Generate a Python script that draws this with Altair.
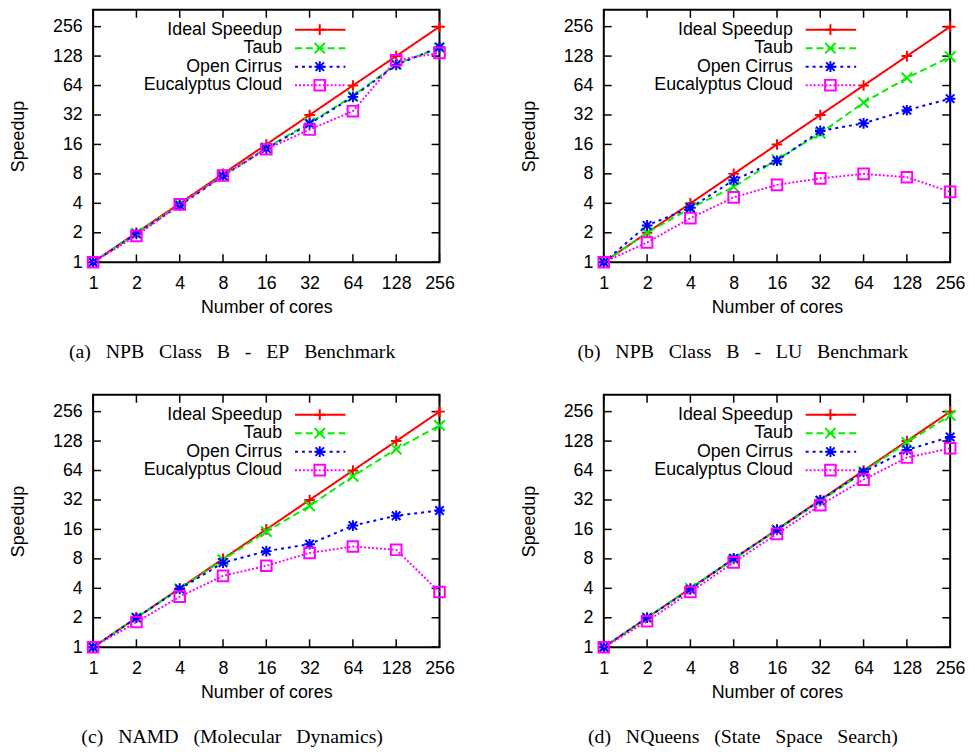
import altair as alt
import pandas as pd

cores = [1, 2, 4, 8, 16, 32, 64, 128, 256]
speedup_ticks = [1, 2, 4, 8, 16, 32, 64, 128, 256]
series_names = ["Ideal Speedup", "Taub", "Open Cirrus", "Eucalyptus Cloud"]
ideal = [1, 2, 4, 8, 16, 32, 64, 128, 256]

ep_taub = [1, 1.98, 3.9, 7.7, 14.8, 26.5, 50, 106, 155]
ep_cirrus = [1, 1.95, 3.8, 7.6, 14.5, 26, 49, 104, 158]
ep_euca = [1, 1.86, 3.9, 7.7, 14.3, 22.7, 35, 116, 138]

lu_taub = [1, 2.0, 3.56, 5.9, 11.2, 20.8, 42.8, 76.5, 126]
lu_cirrus = [1, 2.38, 3.6, 6.9, 10.9, 22, 26.3, 35.8, 47]
lu_euca = [1, 1.59, 2.82, 4.6, 6.18, 7.2, 8.0, 7.4, 5.24]

namd_taub = [1, 2.0, 3.95, 7.8, 15.2, 27.8, 55.9, 106, 185]
namd_cirrus = [1, 2.0, 3.93, 7.3, 9.6, 11.3, 17.5, 22.1, 25.0]
namd_euca = [1, 1.81, 3.29, 5.36, 6.8, 9.2, 10.7, 9.9, 3.67]

nq_taub = [1, 2.0, 4.0, 7.9, 15.8, 31, 62, 124, 234]
nq_cirrus = [1, 2.0, 3.9, 8.1, 15.8, 31.8, 61.8, 104, 141]
nq_euca = [1, 1.84, 3.67, 7.36, 14.4, 28.3, 51.7, 86.8, 108]

captions = [
    "(a) NPB Class B - EP Benchmark",
    "(b) NPB Class B - LU Benchmark",
    "(c) NAMD (Molecular Dynamics)",
    "(d) NQueens (State Space Search)",
]
# LaTeX-style wide inter-word spacing in the captions
WIDE_SPACE = "\u2002 "

W, H = 350, 255
TICK = 8
FONT = "Liberation Sans"
FS = 18

PLUS = "M-1,0L1,0M0,-1L0,1"
XSHP = "M-1,-1L1,1M-1,1L1,-1"
STAR = "M-1,0L1,0M0,-1L0,1M-0.8,-0.8L0.8,0.8M-0.8,0.8L0.8,-0.8"

styles = {
    "Ideal Speedup": dict(color="#ff0000", dash=[1, 0], shape=PLUS, size=115),
    "Taub": dict(color="#00f000", dash=[7, 4], shape=XSHP, size=110),
    "Open Cirrus": dict(color="#0000ff", dash=[3, 4], shape=STAR, size=115),
    "Eucalyptus Cloud": dict(color="#ff00ff", dash=[2, 2], shape="square", size=115),
}

xscale = alt.Scale(type="log", base=2, domain=[1, 256], nice=False)
yscale = alt.Scale(type="log", base=2, domain=[1, 380], nice=False)

xaxis = alt.Axis(values=cores, format="d", title="Number of cores", grid=False,
                 ticks=False, domain=False, labelFlush=False, labelOverlap=False,
                 labelPadding=13, titlePadding=6)
yaxis = alt.Axis(values=speedup_ticks, format="d", title="Speedup", grid=False,
                 ticks=False, domain=False, labelFlush=False, labelOverlap=False,
                 labelPadding=11, titlePadding=25)


def panel(series_values, caption):
    layers = []
    xt = pd.DataFrame({"cores": cores})
    yt = pd.DataFrame({"speedup": speedup_ticks})
    layers.append(alt.Chart(xt).mark_rule(color="black", strokeWidth=1.5).encode(
        x=alt.X("cores:Q", scale=xscale, axis=xaxis), y=alt.value(H), y2=alt.value(H - TICK)))
    layers.append(alt.Chart(xt).mark_rule(color="black", strokeWidth=1.5).encode(
        x=alt.X("cores:Q", scale=xscale, axis=xaxis), y=alt.value(0), y2=alt.value(TICK)))
    layers.append(alt.Chart(yt).mark_rule(color="black", strokeWidth=1.5).encode(
        y=alt.Y("speedup:Q", scale=yscale, axis=yaxis), x=alt.value(0), x2=alt.value(TICK)))
    layers.append(alt.Chart(yt).mark_rule(color="black", strokeWidth=1.5).encode(
        y=alt.Y("speedup:Q", scale=yscale, axis=yaxis), x=alt.value(W), x2=alt.value(W - TICK)))

    for name, vals in zip(series_names, series_values):
        st = styles[name]
        df = pd.DataFrame({"cores": cores, "speedup": vals})
        base = alt.Chart(df).encode(
            x=alt.X("cores:Q", scale=xscale, axis=xaxis),
            y=alt.Y("speedup:Q", scale=yscale, axis=yaxis),
        )
        layers.append(base.mark_line(color=st["color"], strokeDash=st["dash"], strokeWidth=2))
        layers.append(base.mark_point(shape=st["shape"], filled=False, color=st["color"],
                                      size=st["size"], strokeWidth=2, opacity=1))

    for i, name in enumerate(series_names):
        st = styles[name]
        ly = 20 + i * 18.7
        ldf = pd.DataFrame({"label": [name]})
        lb = alt.Chart(ldf)
        layers.append(lb.mark_text(align="right", baseline="middle", font=FONT, fontSize=FS,
                                   color="black").encode(
            text="label:N", x=alt.value(191), y=alt.value(ly)))
        layers.append(lb.mark_rule(color=st["color"], strokeDash=st["dash"], strokeWidth=2).encode(
            x=alt.value(204), x2=alt.value(255), y=alt.value(ly)))
        layers.append(lb.mark_point(shape=st["shape"], filled=False, color=st["color"],
                                    size=st["size"], strokeWidth=2, opacity=1).encode(
            x=alt.value(229), y=alt.value(ly)))

    return alt.layer(*layers).properties(
        width=W, height=H,
        title=alt.TitleParams(caption.replace(" ", WIDE_SPACE), orient="bottom",
                              anchor="middle", frame="bounds",
                              font="Liberation Serif", fontSize=20, fontWeight="normal",
                              color="black", offset=26),
    )


pa = panel([ideal, ep_taub, ep_cirrus, ep_euca], captions[0])
pb = panel([ideal, lu_taub, lu_cirrus, lu_euca], captions[1])
pc = panel([ideal, namd_taub, namd_cirrus, namd_euca], captions[2])
pd_ = panel([ideal, nq_taub, nq_cirrus, nq_euca], captions[3])

chart = alt.vconcat(
    alt.hconcat(pa, pb, spacing=63),
    alt.hconcat(pc, pd_, spacing=63),
    spacing=30,
).configure(
    padding={"top": -4, "left": 0, "right": 0, "bottom": 0}
).configure_view(
    stroke="black", strokeWidth=2
).configure_axis(
    labelFont=FONT, labelFontSize=FS, labelColor="black",
    titleFont=FONT, titleFontSize=FS, titleColor="black", titleFontWeight="normal",
).configure_concat(spacing=0)

chart.save("out.html", embed_options={"renderer": "svg", "actions": False})
